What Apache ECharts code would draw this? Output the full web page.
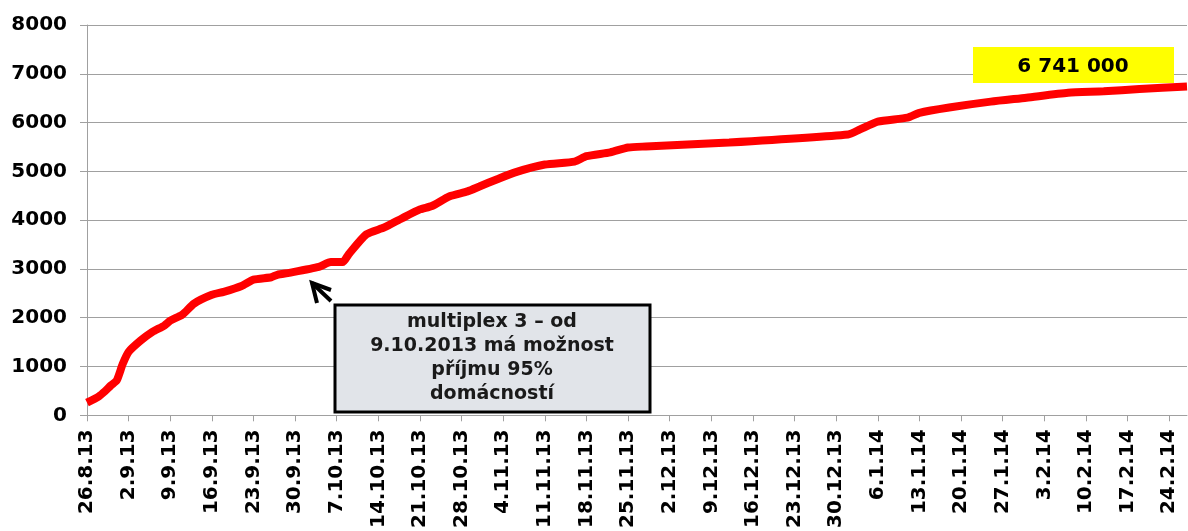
<!DOCTYPE html>
<html>
<head>
<meta charset="utf-8">
<script src="https://cdn.jsdelivr.net/npm/echarts@6/dist/echarts.min.js"></script>
<style>
  html, body { margin: 0; padding: 0; background: #fff; }
  #chart { width: 1188px; height: 531px; }
</style>
</head>
<body>
<div id="chart"></div>
<script>
// days since 26.8.2013 and the running total (thousands of households)
const days = [0, 2, 3, 4, 5, 6, 7, 9, 11, 13, 14, 16, 18, 21, 23, 26, 28, 31, 32, 34, 39, 41, 43, 44, 47, 50, 53, 56, 58, 61, 64, 66, 69, 72, 77, 82, 84, 88, 91, 94, 108, 128, 130, 133, 138, 140, 145, 152, 158, 165, 171, 177, 185];
const values = [260, 390, 490, 610, 715, 1050, 1300, 1530, 1710, 1840, 1940, 2060, 2290, 2470, 2530, 2650, 2780, 2830, 2880, 2920, 3040, 3140, 3140, 3300, 3710, 3850, 4040, 4220, 4290, 4490, 4590, 4690, 4840, 4980, 5140, 5200, 5310, 5390, 5490, 5510, 5590, 5755, 5860, 6020, 6100, 6200, 6310, 6430, 6510, 6610, 6640, 6690, 6741];

// weekly tick labels (every 7 days)
const tickLabels = ['26.8.13', '2.9.13', '9.9.13', '16.9.13', '23.9.13', '30.9.13', '7.10.13', '14.10.13', '21.10.13', '28.10.13', '4.11.13', '11.11.13', '18.11.13', '25.11.13', '2.12.13', '9.12.13', '16.12.13', '23.12.13', '30.12.13', '6.1.14', '13.1.14', '20.1.14', '27.1.14', '3.2.14', '10.2.14', '17.2.14', '24.2.14'];

const noteText = 'multiplex 3 – od\n9.10.2013 má možnost\npříjmu 95%\ndomácností';
const totalText = '6 741 000';

const font = 'DejaVu Sans';
const tickPos = tickLabels.map((t, i) => i * 7);

const chart = echarts.init(document.getElementById('chart'));
chart.setOption({
  animation: false,
  grid: { left: 87, right: 1, top: 25, bottom: 114 },
  xAxis: {
    type: 'value',
    min: 0,
    max: 185,
    interval: 7,
    axisLine: { show: true, lineStyle: { color: '#a0a0a0', width: 1 } },
    axisTick: { show: true, length: 6, customValues: tickPos, lineStyle: { color: '#a0a0a0' } },
    splitLine: { show: false },
    axisLabel: {
      customValues: tickPos,
      rotate: 90,
      margin: 14,
      color: '#000',
      fontFamily: font,
      fontWeight: 'bold',
      fontSize: 20,
      formatter: v => tickLabels[Math.round(v / 7)] || ''
    }
  },
  yAxis: {
    type: 'value',
    min: 0,
    max: 8000,
    interval: 1000,
    axisLine: { show: true, lineStyle: { color: '#a0a0a0', width: 1 } },
    axisTick: { show: true, length: 7, lineStyle: { color: '#a0a0a0' } },
    splitLine: { lineStyle: { color: '#a0a0a0', width: 1 } },
    axisLabel: {
      margin: 20,
      color: '#000',
      fontFamily: font,
      fontWeight: 'bold',
      fontSize: 20,
      formatter: v => String(v)
    }
  },
  series: [{
    type: 'line',
    data: days.map((d, i) => [d, values[i]]),
    showSymbol: false,
    smooth: 0.2,
    lineStyle: { color: '#ff0000', width: 8 },
    z: 3
  }],
  graphic: [
    // arrow toward 9.10.2013
    {
      type: 'polyline',
      shape: { points: [[331, 301], [312, 283]] },
      style: { stroke: '#000', lineWidth: 4, fill: null },
      z: 10
    },
    {
      type: 'polyline',
      shape: { points: [[331, 290], [312, 283], [317, 303]] },
      style: { stroke: '#000', lineWidth: 4, fill: null, lineJoin: 'miter' },
      z: 10
    },
    {
      type: 'rect',
      shape: { x: 335, y: 305, width: 315, height: 107 },
      style: { fill: '#e1e4e9', stroke: '#000', lineWidth: 3 },
      z: 10
    },
    {
      type: 'text',
      x: 492,
      y: 358,
      style: {
        text: noteText,
        align: 'center',
        verticalAlign: 'middle',
        fontFamily: font,
        fontWeight: 'bold',
        fontSize: 19,
        lineHeight: 24,
        fill: '#1a1a1a'
      },
      z: 11
    },
    {
      type: 'rect',
      shape: { x: 973, y: 47, width: 201, height: 36 },
      style: { fill: '#ffff00' },
      z: 10
    },
    {
      type: 'text',
      x: 1073,
      y: 67,
      style: {
        text: totalText,
        align: 'center',
        verticalAlign: 'middle',
        fontFamily: font,
        fontWeight: 'bold',
        fontSize: 20,
        fill: '#000'
      },
      z: 11
    }
  ]
});
</script>
</body>
</html>
